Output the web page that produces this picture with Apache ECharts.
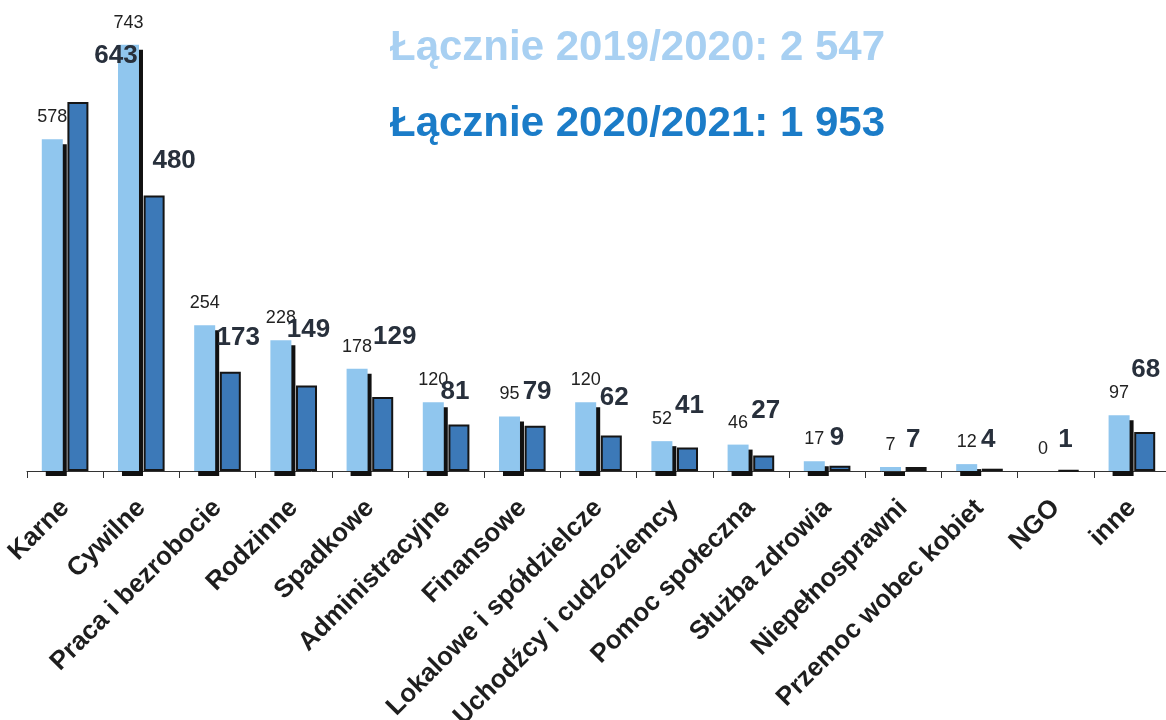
<!DOCTYPE html>
<html>
<head>
<meta charset="utf-8">
<script src="https://cdn.jsdelivr.net/npm/echarts@6/dist/echarts.min.js"></script>
<style>
html,body{margin:0;padding:0;background:#fff;}
#c{width:1166px;height:720px;}
</style>
</head>
<body>
<div id="c"></div>
<script>
const categories = ['Karne','Cywilne','Praca i bezrobocie','Rodzinne','Spadkowe','Administracyjne','Finansowe','Lokalowe i spółdzielcze','Uchodźcy i cudzoziemcy','Pomoc społeczna','Służba zdrowia','Niepełnosprawni','Przemoc wobec kobiet','NGO','inne'];
const values2019 = [578,743,254,228,178,120,95,120,52,46,17,7,12,0,97];
const values2020 = [643,480,173,149,129,81,79,62,41,27,9,7,4,1,68];
const totalLabel2019 = 'Łącznie 2019/2020: 2 547';
const totalLabel2020 = 'Łącznie 2020/2021: 1 953';
// label nudges (style only) for the 2020/2021 value labels
const darkLabelNudge = [[38,-28],[20,-17],[8,-16],[2,-38],[12,-42],[-4,-15],[2,-16],[3,-20],[2,-24],[2,-27],[-3,-10],[-3,-9],[-4,-11],[-3,-12],[1,-44]];

const FONT = 'Liberation Sans, Arial, sans-serif';
const chart = echarts.init(document.getElementById('c'));
chart.setOption({
  animation: false,
  backgroundColor: '#ffffff',
  title: [
    {text: totalLabel2019, left: 385, top: 22, textStyle: {fontFamily: FONT, fontSize: 42, fontWeight: 'bold', color: '#a8d0f2'}},
    {text: totalLabel2020, left: 385, top: 98, textStyle: {fontFamily: FONT, fontSize: 42, fontWeight: 'bold', color: '#1b7cc8'}}
  ],
  grid: {left: 27, top: 12, width: 1143, bottom: 249, containLabel: false, outerBoundsMode: 'none'},
  xAxis: {
    type: 'category',
    data: categories,
    axisLine: {lineStyle: {color: '#333', width: 1}},
    axisTick: {show: true, length: 7, lineStyle: {color: '#333'}},
    axisLabel: {interval: 0, rotate: 45, margin: 33, fontFamily: FONT, fontSize: 26, fontWeight: 'bold', color: '#1e1e1e'}
  },
  yAxis: {type: 'value', min: 0, max: 800, show: false, splitLine: {show: false}},
  series: [
    {
      type: 'bar',
      name: '2019/2020',
      data: values2019,
      barWidth: 21,
      barGap: '22%',
      itemStyle: {color: '#90c6ee', borderWidth: 0, shadowColor: '#111', shadowOffsetX: 4, shadowOffsetY: 5, shadowBlur: 0},
      label: {show: true, position: 'top', distance: 13, fontFamily: FONT, fontSize: 18, color: '#222'},
      z: 2
    },
    {
      type: 'bar',
      name: '2020/2021',
      data: values2020.map((v, i) => ({value: v, label: {offset: darkLabelNudge[i]}})),
      barWidth: 21,
      itemStyle: {color: '#3c79b8', borderColor: '#151515', borderWidth: 2},
      label: {show: true, position: 'top', distance: 5, fontFamily: FONT, fontSize: 26, fontWeight: 'bold', color: '#28303c'},
      z: 3
    }
  ]
});
</script>
</body>
</html>
